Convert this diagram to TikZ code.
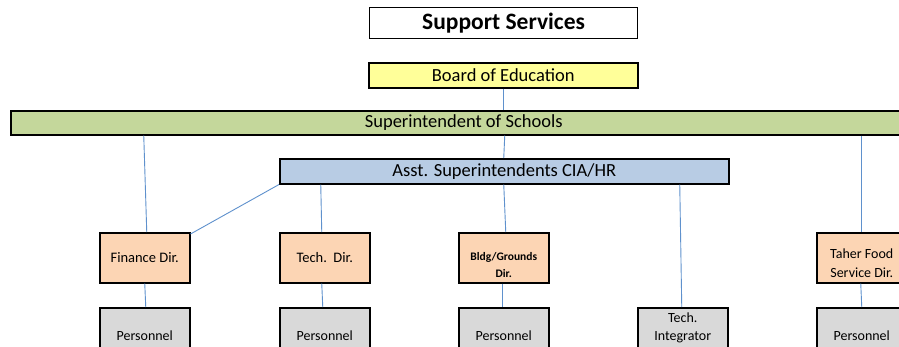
\documentclass[tikz,border=0pt]{standalone}
\usepackage{fontspec}
\setmainfont{Carlito}
\definecolor{boardyellow}{RGB}{255,255,153}
\definecolor{supgreen}{RGB}{196,215,155}
\definecolor{asstblue}{RGB}{184,204,228}
\definecolor{dirpeach}{RGB}{252,213,180}
\definecolor{persgray}{RGB}{217,217,217}
\definecolor{linkblue}{RGB}{95,145,205}
\begin{document}
\begin{tikzpicture}[x=1pt,y=-1pt,
  box/.style={draw=black, line width=1.5pt, inner sep=0pt, anchor=north west, align=center},
  bigtext/.style={font=\fontsize{18.5}{22}\selectfont},
  dirbox/.style={box, fill=dirpeach, minimum width=90pt, minimum height=50pt, font=\fontsize{14.5}{19}\selectfont},
  persbox/.style={box, fill=persgray, minimum width=90pt, minimum height=56pt, font=\fontsize{14}{18}\selectfont},
  link/.style={draw=linkblue, line width=0.9pt}]
\clip (0,0) rectangle (899,346);
\fill[white] (0,0) rectangle (899,346);
% top boxes
\node[box, line width=1.2pt, fill=white, minimum width=268pt, minimum height=31pt,
      font=\fontsize{23.5}{28}\selectfont\bfseries] (title) at (369,7) {Support Services};
\node[box, fill=boardyellow, minimum width=269pt, minimum height=25pt, bigtext] (board) at (368,62) {Board of Education};
\node[box, fill=supgreen, minimum width=906pt, minimum height=24pt, bigtext] (super) at (10,110) {Superintendent of Schools};
\node[box, fill=asstblue, minimum width=449pt, minimum height=25pt, bigtext] (asst) at (279,158) {Asst. Superintendents CIA/HR};
% directors
\node[dirbox] (finance) at (99,232) {Finance Dir.};
\node[dirbox] (tech) at (279,232) {Tech.\ \ Dir.};
\node[dirbox, label={[yshift=-7.5pt, align=center, font=\fontsize{11.5}{17}\selectfont\bfseries]center:Bldg/Grounds\\Dir.}] (bldg) at (458,232) {};
\node[dirbox, label={[yshift=-5.5pt, align=center, font=\fontsize{14}{19}\selectfont]center:Taher Food\\Service Dir.}] (taher) at (816,232) {};
% personnel
\node[persbox] (p1) at (99,307) {Personnel};
\node[persbox] (p2) at (279,307) {Personnel};
\node[persbox] (p3) at (458,307) {Personnel};
\node[persbox, label={[yshift=8pt, align=center, font=\fontsize{14}{18}\selectfont]center:Tech.\\Integrator}] (integ) at (637,307) {};
\node[persbox] (p5) at (816,307) {Personnel};
% connectors
\draw[link] (board.south) -- (board.south |- super.north);
\draw[link] ([xshift=0.5pt]asst.north |- super.south) -- ([xshift=-0.5pt]asst.north);
\draw[link] ([xshift=-1pt]finance.north |- super.south) -- ([xshift=2pt]finance.north);
\draw[link] (asst.south west) -- ([yshift=-2pt]finance.north east);
\draw[link] ([xshift=-4pt]tech.north |- asst.south) -- ([xshift=-3pt]tech.north);
\draw[link] (bldg.north |- asst.south) -- ([xshift=2pt]bldg.north);
\draw[link] ([xshift=-3pt]integ.north |- asst.south) -- ([xshift=-1pt]integ.north);
\draw[link] (taher.north |- super.south) -- (taher.north);
\draw[link] (finance.south) -- ([xshift=1pt]p1.north);
\draw[link] ([xshift=-3pt]tech.south) -- ([xshift=-2pt]p2.north);
\draw[link] ([xshift=-1pt]bldg.south) -- ([xshift=-1pt]p3.north);
\draw[link] ([xshift=-1pt]taher.south) -- (p5.north);
\end{tikzpicture}
\end{document}
